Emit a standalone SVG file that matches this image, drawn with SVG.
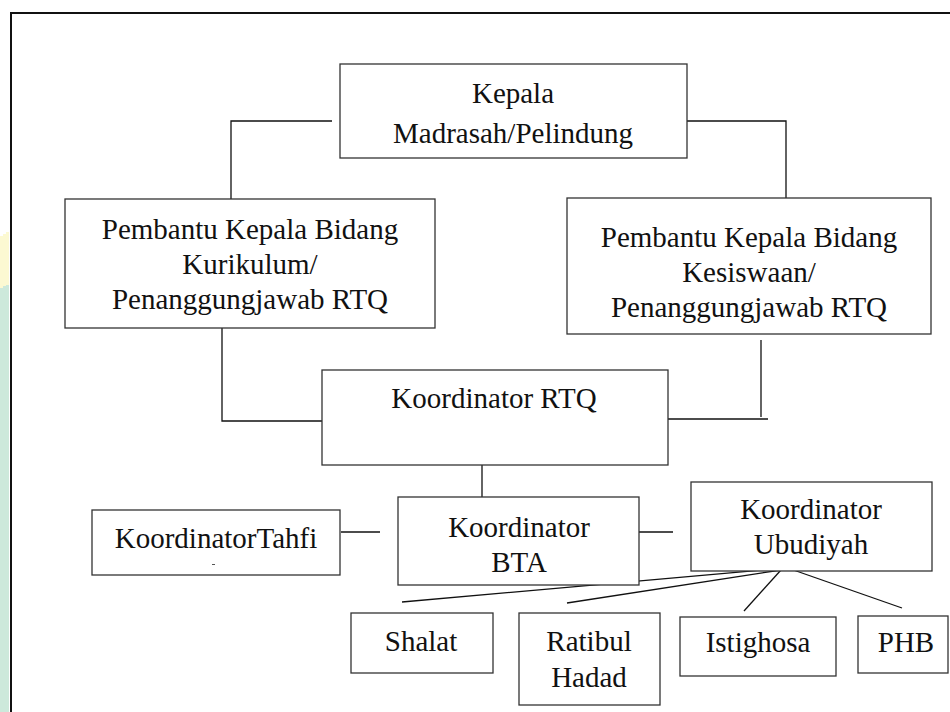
<svg xmlns="http://www.w3.org/2000/svg" width="950" height="712" viewBox="0 0 950 712">
<style>
.box{fill:#fff;stroke:#333;stroke-width:1.3}
.ln{fill:none;stroke:#111;stroke-width:1.3}
.t{font-family:'Liberation Serif','DejaVu Serif',serif;font-size:29px;fill:#111;text-anchor:middle}
</style>
<rect x="0" y="0" width="950" height="712" fill="#fff"/>
<g id="watermark">
<polygon points="0,236 3,236 3,234 6,234 6,232 9,232 9,292 0,292" fill="#fcf9d2"/>
<polygon points="0,288 3,288 3,286 6,286 6,285 9,285 9,712 0,712" fill="#cde9db"/>
</g>
<g id="frame">
<polyline points="11,712 11,13 950,13" fill="none" stroke="#111" stroke-width="2"/>
</g>
<g id="connectors">
<polyline class="ln" points="231,199 231,121 332,121"/>
<polyline class="ln" points="687,121 786,121 786,198"/>
<polyline class="ln" points="222,328 222,421 322,421"/>
<line class="ln" x1="761" y1="340" x2="761" y2="417"/>
<line class="ln" x1="668" y1="419" x2="768" y2="419"/>
<line class="ln" x1="482" y1="465" x2="482" y2="497"/>
<line class="ln" x1="341" y1="532" x2="380" y2="532"/>
<line class="ln" x1="639" y1="532" x2="673" y2="532"/>
<line class="ln" x1="402" y1="602" x2="774" y2="569"/>
<line class="ln" x1="567" y1="603" x2="781" y2="570"/>
<line class="ln" x1="781" y1="570" x2="744" y2="611"/>
<line class="ln" x1="782" y1="566" x2="902" y2="608"/>
</g>
<g id="kepala">
<rect class="box" x="340" y="64" width="347" height="94"/>
<text class="t" font-family="Liberation Serif" x="513" y="103">Kepala</text>
<text class="t" font-family="Liberation Serif" x="513" y="143">Madrasah/Pelindung</text>
</g>
<g id="kurikulum">
<rect class="box" x="65" y="199" width="370" height="129"/>
<text class="t" x="250" y="239">Pembantu Kepala Bidang</text>
<text class="t" x="250" y="274">Kurikulum/</text>
<text class="t" x="250" y="309">Penanggungjawab RTQ</text>
</g>
<g id="kesiswaan">
<rect class="box" x="567" y="198" width="364" height="136"/>
<text class="t" x="749" y="247">Pembantu Kepala Bidang</text>
<text class="t" x="749" y="282">Kesiswaan/</text>
<text class="t" x="749" y="317">Penanggungjawab RTQ</text>
</g>
<g id="rtq">
<rect class="box" x="322" y="370" width="346" height="95"/>
<text class="t" x="494" y="408">Koordinator RTQ</text>
</g>
<g id="tahfi">
<rect class="box" x="92" y="510" width="248" height="65"/>
<text class="t" x="216" y="548">KoordinatorTahfi</text>
<rect x="212" y="564" width="3" height="1" fill="#555"/>
</g>
<g id="bta">
<rect class="box" x="398" y="497" width="241" height="88"/>
<text class="t" x="519" y="537">Koordinator</text>
<text class="t" x="519" y="572">BTA</text>
</g>
<g id="ubudiyah">
<rect class="box" x="691" y="482" width="241" height="89"/>
<text class="t" x="811" y="519">Koordinator</text>
<text class="t" x="811" y="554">Ubudiyah</text>
</g>
<g id="shalat">
<rect class="box" x="351" y="613" width="142" height="60"/>
<text class="t" x="421" y="651">Shalat</text>
</g>
<g id="ratibul">
<rect class="box" x="519" y="613" width="141" height="92"/>
<text class="t" x="589" y="651">Ratibul</text>
<text class="t" x="589" y="687">Hadad</text>
</g>
<g id="istighosa">
<rect class="box" x="680" y="617" width="156" height="59"/>
<text class="t" x="758" y="652">Istighosa</text>
</g>
<g id="phb">
<rect class="box" x="858" y="616" width="90" height="57"/>
<text class="t" x="906" y="652">PHB</text>
</g>
</svg>
